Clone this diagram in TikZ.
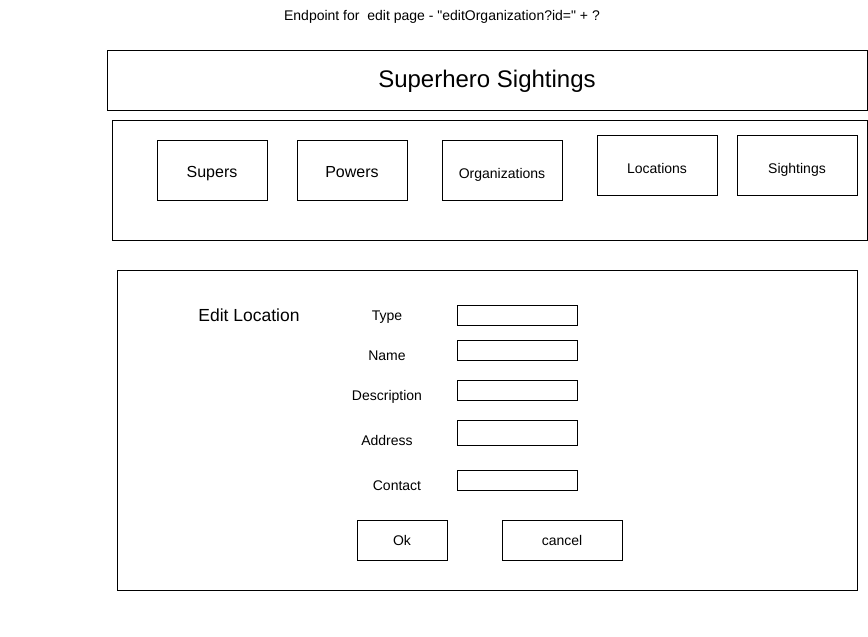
\documentclass[tikz,border=0pt]{standalone}
\usepackage{fontspec}
\setmainfont{Liberation Sans}
\begin{document}
\begin{tikzpicture}[x=1pt,y=-1pt,
  box/.style={draw=black,line width=1pt,fill=white,inner sep=0pt,align=center,text height=10pt,text depth=0pt},
  lbl/.style={inner sep=0pt,text height=10.5pt,text depth=0pt,font=\fontsize{14}{16}\selectfont}]
\useasboundingbox (0,0) rectangle (868,637);
% top caption
\node[lbl,text height=10pt] (cap) at (442,15) {Endpoint for\ \ edit page - \textquotedbl editOrganization?id=\textquotedbl\ + ?};
% header
\node[box,text height=14pt,minimum width=760pt,minimum height=60pt,font=\fontsize{24}{28}\selectfont] (hdr) at (487,80) {Superhero Sightings};
% nav panel
\node[box,minimum width=755pt,minimum height=120pt] (nav) at (489.5,180) {};
\node[box,text height=15.4pt,minimum width=110pt,minimum height=60pt,font=\fontsize{16}{18}\selectfont] (supers) at (212,170) {Supers};
\node[box,text height=15.4pt,minimum width=110pt,minimum height=60pt,font=\fontsize{16}{18}\selectfont] (powers) at (352,170) {Powers};
\node[box,text height=16.4pt,minimum width=120pt,minimum height=60pt,font=\fontsize{14}{16}\selectfont] (orgs) at (502,170) {Organizations};
\node[box,text height=16pt,minimum width=120pt,minimum height=60pt,font=\fontsize{14}{16}\selectfont] (locs) at (657,165) {Locations};
\node[box,text height=16pt,minimum width=120pt,minimum height=60pt,font=\fontsize{14}{16}\selectfont] (sights) at (797,165) {Sightings};
% form panel
\node[box,minimum width=740pt,minimum height=320pt] (form) at (487,430) {};
\node[lbl,text height=12pt,font=\fontsize{17.5}{20}\selectfont] (title) at (249,315) {Edit Location};
\node[lbl] (ltype) at (387,315) {Type};
\node[lbl] (lname) at (387,355) {Name};
\node[lbl] (ldesc) at (387,395) {Description};
\node[lbl] (laddr) at (387,440) {Address};
\node[lbl] (lcont) at (397,485) {Contact};
\node[box,minimum width=120pt,minimum height=20pt] (ftype) at (517,315) {};
\node[box,minimum width=120pt,minimum height=20pt] (fname) at (517,350) {};
\node[box,minimum width=120pt,minimum height=20pt] (fdesc) at (517,390) {};
\node[box,minimum width=120pt,minimum height=25pt] (faddr) at (517,432.5) {};
\node[box,minimum width=120pt,minimum height=20pt] (fcont) at (517,480) {};
\node[box,minimum width=90pt,minimum height=40pt,font=\fontsize{14}{16}\selectfont] (ok) at (402,540) {Ok};
\node[box,minimum width=120pt,minimum height=40pt,font=\fontsize{14}{16}\selectfont] (cancel) at (562,540) {cancel};
\end{tikzpicture}
\end{document}
